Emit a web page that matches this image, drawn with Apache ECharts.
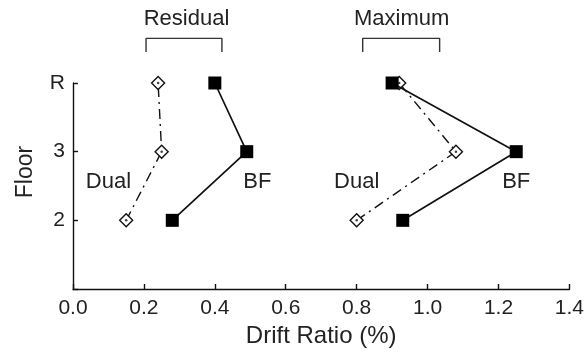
<!DOCTYPE html>
<html>
<head>
<meta charset="utf-8">
<script src="https://cdn.jsdelivr.net/npm/echarts@6/dist/echarts.min.js"></script>
<style>
    html, body { margin: 0; padding: 0; background: #fff; }
    #chart { width: 587px; height: 356px; }
</style>
</head>
<body>
<div id="chart"></div>
<script>
// floors plotted as 2, 3, R (R placed at 4)
const floors = [2, 3, 4];
const floorLabels = { 2: "2", 3: "3", 4: "R" };

// drift ratios (%)
const residualDual = [0.15, 0.25, 0.24];
const residualBF = [0.28, 0.49, 0.40];
const maximumDual = [0.80, 1.08, 0.92];
const maximumBF = [0.93, 1.25, 0.90];

// group brackets above the plot
const residualBracket = [[0.206, 4.45], [0.206, 4.65], [0.42, 4.65], [0.42, 4.45]];
const maximumBracket = [[0.817, 4.45], [0.817, 4.65], [1.034, 4.65], [1.034, 4.45]];

const font = "Liberation Sans";
const textColor = "#222";

function pairs(values) {
    return values.map((v, i) => [v, floors[i]]);
}

function dualSeries(name, values) {
    return {
        name: name,
        type: "line",
        data: pairs(values),
        symbol: "diamond",
        symbolSize: [13, 13],
        itemStyle: { color: "#fff", borderColor: "#111", borderWidth: 1.4 },
        lineStyle: { color: "#111", width: 1.4, type: [10, 5, 2, 5] },
        z: 3
    };
}

// small dot in the middle of each open diamond
function dotSeries(values) {
    return {
        type: "scatter",
        data: pairs(values),
        symbol: "circle",
        symbolSize: 2.5,
        itemStyle: { color: "#111" },
        silent: true,
        z: 5
    };
}

function bfSeries(name, values) {
    return {
        name: name,
        type: "line",
        data: pairs(values),
        symbol: "rect",
        symbolSize: 13,
        itemStyle: { color: "#000", borderWidth: 0 },
        lineStyle: { color: "#111", width: 1.7 },
        z: 4
    };
}

function bracketSeries(data) {
    return {
        type: "line",
        data: data,
        symbol: "none",
        clip: false,
        silent: true,
        lineStyle: { color: "#333", width: 1.4 }
    };
}

const chart = echarts.init(document.getElementById("chart"));
chart.setOption({
    animation: false,
    grid: { left: 73, right: 17, top: 83, bottom: 67 },
    xAxis: {
        type: "value",
        min: 0,
        max: 1.4,
        interval: 0.2,
        name: "Drift Ratio (%)",
        nameLocation: "middle",
        nameGap: 34,
        nameTextStyle: { fontFamily: font, fontSize: 24, color: textColor },
        axisLine: { lineStyle: { color: "#111", width: 1.4 } },
        axisTick: { inside: true, length: 5, lineStyle: { color: "#111", width: 1.4 } },
        axisLabel: {
            fontFamily: font,
            fontSize: 21,
            color: textColor,
            margin: 9,
            formatter: v => v.toFixed(1)
        },
        splitLine: { show: false }
    },
    yAxis: {
        type: "value",
        min: 1,
        max: 4,
        interval: 1,
        name: "Floor",
        nameLocation: "middle",
        nameGap: 36,
        nameTextStyle: { fontFamily: font, fontSize: 23, color: textColor, padding: [0, 0, 0, 28] },
        axisLine: { show: true, lineStyle: { color: "#111", width: 1.4 } },
        axisTick: { show: true, inside: true, length: 5, lineStyle: { color: "#111", width: 1.4 } },
        axisLabel: {
            fontFamily: font,
            fontSize: 21,
            color: textColor,
            margin: 8,
            formatter: v => floorLabels[v] || ""
        },
        splitLine: { show: false }
    },
    series: [
        dualSeries("Residual Dual", residualDual),
        bfSeries("Residual BF", residualBF),
        dualSeries("Maximum Dual", maximumDual),
        bfSeries("Maximum BF", maximumBF),
        dotSeries(residualDual),
        dotSeries(maximumDual),
        bracketSeries(residualBracket),
        bracketSeries(maximumBracket)
    ]
});

// text labels placed in data coordinates
const notes = [
    { text: "Residual", x: 0.32, y: 4.94 },
    { text: "Maximum", x: 0.927, y: 4.94 },
    { text: "Dual", x: 0.10, y: 2.565 },
    { text: "BF", x: 0.52, y: 2.565 },
    { text: "Dual", x: 0.80, y: 2.565 },
    { text: "BF", x: 1.25, y: 2.565 }
];
chart.setOption({
    graphic: notes.map(n => {
        const p = chart.convertToPixel({ gridIndex: 0 }, [n.x, n.y]);
        return {
            type: "text",
            x: p[0],
            y: p[1],
            style: { text: n.text, font: "22px " + font, fill: textColor, align: "center", verticalAlign: "middle" }
        };
    })
});
</script>
</body>
</html>
